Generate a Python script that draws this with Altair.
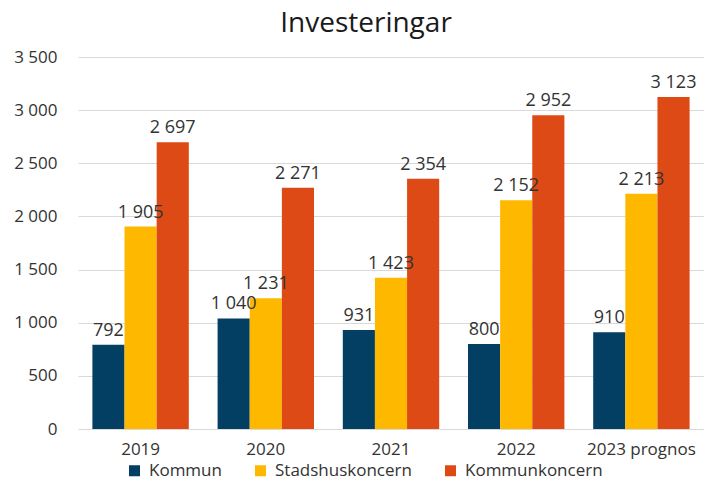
import altair as alt
import pandas as pd

years = ["2019", "2020", "2021", "2022", "2023 prognos"]
series = ["Kommun", "Stadshuskoncern", "Kommunkoncern"]
kommun = [792, 1040, 931, 800, 910]
stadshus = [1905, 1231, 1423, 2152, 2213]
kommunkoncern = [2697, 2271, 2354, 2952, 3123]
colors = ["#023F63", "#FFB800", "#DE4A15"]

rows = []
for i, y in enumerate(years):
    for s, vals in zip(series, [kommun, stadshus, kommunkoncern]):
        rows.append({"year": y, "serie": s, "value": vals[i]})
df = pd.DataFrame(rows)

FONT = "Open Sans"

base = alt.Chart(df).encode(
    x=alt.X("year:N", sort=years, title=None,
            scale=alt.Scale(paddingInner=0.23, paddingOuter=0.115),
            axis=alt.Axis(labelAngle=0, ticks=False, domain=False, labelFontSize=17,
                          labelColor="#333333", labelPadding=12, labelFont=FONT)),
    xOffset=alt.XOffset("serie:N", sort=series),
)

bars = base.mark_bar().encode(
    y=alt.Y("value:Q", title=None,
            scale=alt.Scale(domain=[0, 3500]),
            axis=alt.Axis(values=[0, 500, 1000, 1500, 2000, 2500, 3000, 3500],
                          labelExpr="replace(format(datum.value, ','), ',', ' ')",
                          ticks=False, domain=False, labelFontSize=17,
                          labelColor="#333333", labelPadding=21, labelFont=FONT,
                          gridColor="#d9d9d9", gridWidth=1)),
    color=alt.Color("serie:N", sort=series,
                    scale=alt.Scale(domain=series, range=colors),
                    legend=alt.Legend(title=None, orient="none", direction="horizontal",
                                      legendX=48, legendY=405,
                                      symbolType="square", symbolSize=121,
                                      labelFontSize=17, labelFont=FONT, labelOffset=6,
                                      labelColor="#333333", columnPadding=30,
                                      symbolStrokeWidth=0)),
)

labels = base.transform_calculate(
    lbl="replace(format(datum.value, ','), ',', ' ')"
).mark_text(baseline="bottom", dy=-5, fontSize=18, font=FONT, color="#333333").encode(
    y=alt.Y("value:Q"),
    text="lbl:N",
)

chart = alt.layer(bars, labels).properties(
    width=626, height=372,
    autosize=alt.AutoSizeParams(type="none"),
    padding={"left": 70, "top": 49, "right": 0, "bottom": 54},
    title=alt.Title("Investeringar", fontSize=28, font=FONT, fontWeight="normal",
                    color="#1a1a1a", offset=10, dx=-25),
).configure_view(stroke=None)

chart.save("out.html", embed_options={"renderer": "svg", "actions": False})
